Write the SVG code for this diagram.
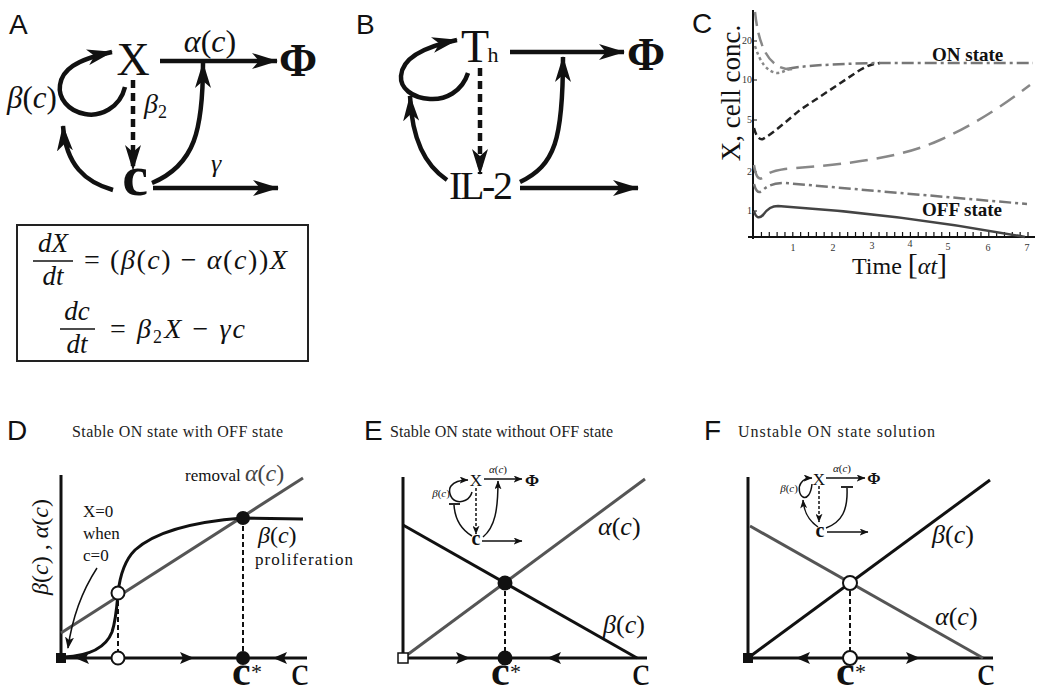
<svg xmlns="http://www.w3.org/2000/svg" width="1042" height="692" viewBox="0 0 1042 692">
<defs>
<style>
.lbl{font-family:"Liberation Sans",Arial,sans-serif;font-size:28px;fill:#111}
.sf{font-family:"Liberation Serif","Times New Roman",serif;fill:#111}
.it{font-style:italic}
.ln{fill:none;stroke:#111;stroke-width:4.5}
.thin{fill:none;stroke:#111;stroke-width:1.5}
.ax{fill:none;stroke:#111;stroke-width:3}
.blk{fill:none;stroke:#111;stroke-width:3}
.gry{fill:none;stroke:#555;stroke-width:3}
.dsh{fill:none;stroke:#111;stroke-width:2;stroke-dasharray:5,3}
.ttl{font-family:"Liberation Serif","Times New Roman",serif;font-size:16px;fill:#222}
.tk{font-family:"Liberation Serif","Times New Roman",serif;font-size:10px;fill:#333}
</style>
<marker id="ah" viewBox="0 0 26 16" markerWidth="26" markerHeight="16" refX="25" refY="8" orient="auto" markerUnits="userSpaceOnUse"><path d="M0,0 L26,8 L0,16 L7,8 Z" fill="#111"/></marker>
<marker id="am" viewBox="0 0 12 9" markerWidth="12" markerHeight="9" refX="11" refY="4.5" orient="auto" markerUnits="userSpaceOnUse"><path d="M0,0 L12,4.5 L0,9 L3,4.5 Z" fill="#111"/></marker>
<marker id="as" viewBox="0 0 10 8" markerWidth="9" markerHeight="7" refX="9.5" refY="4" orient="auto" markerUnits="userSpaceOnUse"><path d="M0,0 L10,4 L0,8 L2.5,4 Z" fill="#111"/></marker>
</defs>
<rect width="1042" height="692" fill="#fff"/>

<!-- Panel A -->
<g id="panelA">
<text class="lbl" x="9" y="34">A</text>
<g id="A-X"><text class="sf" x="133" y="75" font-size="46" text-anchor="middle">X</text></g>
<g id="A-Phi"><text class="sf" x="298" y="76" font-size="46" font-weight="bold" text-anchor="middle">Φ</text></g>
<g id="A-c"><text class="sf" x="135" y="195" font-size="58" font-weight="bold" text-anchor="middle">c</text></g>
<text class="sf it" x="210" y="52" font-size="32" text-anchor="middle">α<tspan font-style="normal">(</tspan>c<tspan font-style="normal">)</tspan></text>
<text class="sf it" x="32" y="108" font-size="31" text-anchor="middle">β<tspan font-style="normal">(</tspan>c<tspan font-style="normal">)</tspan></text>
<text class="sf it" x="144" y="113" font-size="28">β<tspan font-style="normal" font-size="18" dy="5">2</tspan></text>
<text class="sf it" x="216" y="172" font-size="26" text-anchor="middle">γ</text>
<g id="A-conn">
<path class="ln" d="M160,61 L277,61" marker-end="url(#ah)"/>
<path class="ln" d="M125,87 C120,108 100,117 85,114 C68,111 58,98 60,85 C62,70 75,60 112,52" marker-end="url(#ah)"/>
<path class="ln" d="M133,80 L133,170" stroke-width="3.5" stroke-dasharray="8,5" marker-end="url(#ah)"/>
<path class="ln" d="M113,190 C85,182 66,165 63,126" marker-end="url(#ah)"/>
<path class="ln" d="M152,183 C195,165 203,130 203,63" marker-end="url(#ah)"/>
<path class="ln" d="M153,188 L278,188" marker-end="url(#ah)"/>
</g>
<g id="A-eq">
<rect x="17" y="225" width="291" height="136" fill="none" stroke="#222" stroke-width="2"/>
<text class="sf it" x="53" y="252" font-size="27" text-anchor="middle">dX</text>
<line x1="33" y1="261" x2="73" y2="261" stroke="#111" stroke-width="1.3"/>
<text class="sf it" x="53" y="285" font-size="27" text-anchor="middle">dt</text>
<text class="sf it" x="84" y="269" font-size="28" textLength="203"><tspan font-style="normal">= (</tspan>β<tspan font-style="normal">(</tspan>c<tspan font-style="normal">) − </tspan>α<tspan font-style="normal">(</tspan>c<tspan font-style="normal">))</tspan>X</text>
<text class="sf it" x="77" y="320" font-size="27" text-anchor="middle">dc</text>
<line x1="60" y1="329" x2="95" y2="329" stroke="#111" stroke-width="1.3"/>
<text class="sf it" x="77" y="353" font-size="27" text-anchor="middle">dt</text>
<text class="sf it" x="110" y="338" font-size="28" textLength="135"><tspan font-style="normal">= </tspan>β<tspan font-style="normal" font-size="18" dy="5">2</tspan><tspan dy="-5">X </tspan><tspan font-style="normal">− </tspan>γc</text>
</g>
</g>

<!-- Panel B -->
<g id="panelB">
<text class="lbl" x="356" y="34">B</text>
<g id="B-Th"><text class="sf" x="475" y="62" font-size="46" text-anchor="middle">T</text><text class="sf" x="493" y="62" font-size="22" text-anchor="middle">h</text></g>
<g id="B-Phi"><text class="sf" x="646" y="70" font-size="46" font-weight="bold" text-anchor="middle">Φ</text></g>
<g id="B-IL2"><text class="sf" x="481" y="199" font-size="40" text-anchor="middle" textLength="64">IL-2</text></g>
<g id="B-conn">
<path class="ln" d="M510,52 L624,52" marker-end="url(#ah)"/>
<path class="ln" d="M468,73 C462,92 445,100 430,99 C412,98 400,88 401,76 C402,60 418,48 457,40" marker-end="url(#ah)"/>
<path class="ln" d="M480,68 L480,174" stroke-width="3.5" stroke-dasharray="8,5" marker-end="url(#ah)"/>
<path class="ln" d="M447,180 C425,165 412,140 410,96" marker-end="url(#ah)"/>
<path class="ln" d="M520,182 C555,165 563,140 563,57" marker-end="url(#ah)"/>
<path class="ln" d="M520,188 L638,188" marker-end="url(#ah)"/>
</g>
</g>

<!-- Panel C -->
<g id="panelC">
<text class="lbl" x="692" y="33">C</text>
<line x1="753" y1="10" x2="753" y2="239" stroke="#111" stroke-width="2"/>
<line x1="748" y1="237" x2="1035" y2="237" stroke="#111" stroke-width="2"/>
<line x1="760.84" y1="234" x2="1030" y2="234" stroke="#111" stroke-width="4" stroke-dasharray="1.2,6.64"/>
<g stroke="#111" stroke-width="1">
<line x1="753" y1="41" x2="757" y2="41"/><line x1="753" y1="80" x2="757" y2="80"/><line x1="753" y1="120" x2="757" y2="120"/><line x1="753" y1="172" x2="757" y2="172"/><line x1="753" y1="211" x2="757" y2="211"/>
</g>
<g class="tk" text-anchor="middle">
<text x="793" y="251">1</text><text x="833" y="251">2</text><text x="872" y="249">3</text><text x="910" y="247">4</text><text x="948" y="250">5</text><text x="988" y="251">6</text><text x="1027" y="251">7</text>
</g>
<g class="tk" text-anchor="end">
<text x="752" y="44">20</text><text x="752" y="83">10</text><text x="752" y="123">5</text><text x="752" y="175">2</text><text x="752" y="214">1</text>
</g>
<text class="sf" x="0" y="0" font-size="27" text-anchor="middle" transform="translate(740,93) rotate(-90)">X, cell conc.</text>
<text class="sf" x="852" y="274" font-size="24">Time <tspan font-size="30" font-weight="lighter">[</tspan><tspan font-style="italic">αt</tspan><tspan font-size="30">]</tspan></text>
<text class="sf" x="932" y="61" font-size="19" font-weight="bold">ON state</text>
<text class="sf" x="922" y="216" font-size="19" font-weight="bold">OFF state</text>
<g id="C-curves" fill="none">
<path d="M754,211 C756,218 759,219 763,215 C768,208 772,206 778,206 Q900,214 1025,237" stroke="#444" stroke-width="2.5"/>
<path d="M754,184 C756,192 759,194 763,190 C768,185 775,183 785,183 L1027,204" stroke="#777" stroke-width="2.5" stroke-dasharray="12,4,3,4"/>
<path d="M754,165 C756,178 759,181 764,177 C768,173 772,171 785,169 C850,164 900,158 940,140 C980,122 1010,100 1030,85" stroke="#888" stroke-width="2.5" stroke-dasharray="18,9"/>
<path d="M754,128 C756,136 759,140 763,139 C775,132 790,118 800,110 L860,70 C867,66 872,64 880,63" stroke="#222" stroke-width="2.5" stroke-dasharray="7,4"/>
<path d="M787,69 C800,66 830,64 880,63 L1033,63" stroke="#777" stroke-width="2.5" stroke-dasharray="12,4,3,4"/>
<path d="M755,12 C758,40 765,60 780,67 C785,69 788,70 792,69" stroke="#888" stroke-width="2.5" stroke-dasharray="14,7"/>
<path d="M755,46 C760,62 767,72 777,73 C782,73 786,70 792,68" stroke="#888" stroke-width="2.5" stroke-dasharray="3,3"/>
</g>
</g>

<!-- Panel D -->
<g id="panelD">
<text class="lbl" x="7" y="440">D</text>
<text class="ttl" x="72" y="437" textLength="211">Stable ON state with OFF state</text>
<text class="sf it" font-size="24" fill="#666" text-anchor="middle" transform="translate(48,547) rotate(-90)">β<tspan font-style="normal">(</tspan>c<tspan font-style="normal">) , </tspan>α<tspan font-style="normal">(</tspan>c<tspan font-style="normal">)</tspan></text>
<line class="ax" x1="61" y1="475" x2="61" y2="658"/>
<line class="ax" x1="61" y1="658" x2="307" y2="658"/>
<path class="gry" d="M61,633 L303,478"/>
<path class="blk" d="M64,657 C85,656 105,650 112,632 C116,620 117,605 118,593 C120,575 125,560 135,550 C155,532 190,522 243,518 L303,519"/>
<path class="thin" d="M97,568 C84,588 73,612 68,648" marker-end="url(#am)"/>
<line class="dsh" x1="118" y1="593" x2="118" y2="658"/>
<line class="dsh" x1="243" y1="518" x2="243" y2="658"/>
<rect x="56" y="653" width="10" height="10" fill="#111"/>
<circle cx="118" cy="593" r="6.5" fill="#fff" stroke="#111" stroke-width="2"/>
<circle cx="243" cy="518" r="7" fill="#111"/>
<circle cx="118" cy="658" r="6.5" fill="#fff" stroke="#111" stroke-width="2"/>
<circle cx="243" cy="658" r="7" fill="#111"/>
<path d="M75,658 L89,652 L86,658 L89,664 Z" fill="#111"/>
<path d="M194,658 L180,652 L183,658 L180,664 Z" fill="#111"/>
<path d="M273,658 L287,652 L284,658 L287,664 Z" fill="#111"/>
<text class="sf" x="83" y="517" font-size="17">X=0</text>
<text class="sf" x="83" y="539" font-size="17">when</text>
<text class="sf" x="83" y="561" font-size="17">c=0</text>
<text class="sf" x="185" y="481" font-size="17">removal <tspan font-style="italic" font-size="24" fill="#444">α</tspan><tspan font-size="24" fill="#444">(</tspan><tspan font-style="italic" font-size="24" fill="#444">c</tspan><tspan font-size="24" fill="#444">)</tspan></text>
<text class="sf it" x="258" y="543" font-size="24" fill="#333">β<tspan font-style="normal">(</tspan>c<tspan font-style="normal">)</tspan></text>
<text class="sf" x="255" y="565" font-size="17" textLength="98">proliferation</text>
<text class="sf" x="232" y="685" font-size="42" font-weight="bold">c</text>
<text class="sf" x="251" y="679" font-size="22">*</text>
<text class="sf" x="291" y="685" font-size="40">c</text>
</g>

<!-- Panel E -->
<g id="panelE">
<text class="lbl" x="364" y="440">E</text>
<text class="ttl" x="390" y="437" textLength="223">Stable ON state without OFF state</text>
<line class="ax" x1="403" y1="477" x2="403" y2="658"/>
<line class="ax" x1="403" y1="658" x2="647" y2="658"/>
<path class="blk" d="M403,525 L637,658"/>
<path class="gry" d="M403,658 L645,479"/>
<line class="dsh" x1="505" y1="583" x2="505" y2="658"/>
<circle cx="505" cy="583" r="7.5" fill="#111"/>
<circle cx="505" cy="658" r="7.5" fill="#111"/>
<rect x="398" y="653" width="10" height="10" fill="#fff" stroke="#111" stroke-width="1.5"/>
<path d="M470,658 L456,652 L459,658 L456,664 Z" fill="#111"/>
<path d="M547,658 L561,652 L558,658 L561,664 Z" fill="#111"/>
<text class="sf it" x="598" y="535" font-size="26" fill="#333">α<tspan font-style="normal">(</tspan>c<tspan font-style="normal">)</tspan></text>
<text class="sf it" x="603" y="633" font-size="26" fill="#333">β<tspan font-style="normal">(</tspan>c<tspan font-style="normal">)</tspan></text>
<text class="sf" x="491" y="685" font-size="42" font-weight="bold">c</text>
<text class="sf" x="510" y="679" font-size="22">*</text>
<text class="sf" x="632" y="685" font-size="40">c</text>
<g id="E-inset">
<text class="sf" x="476" y="486" font-size="17" text-anchor="middle">X</text>
<text class="sf it" x="498" y="473" font-size="11" fill="#666" text-anchor="middle">α<tspan font-style="normal">(</tspan>c<tspan font-style="normal">)</tspan></text>
<text class="sf" x="532" y="486" font-size="17" font-weight="bold" text-anchor="middle">Φ</text>
<text class="sf it" x="441" y="497" font-size="11" fill="#888" text-anchor="middle">β<tspan font-style="normal">(</tspan>c<tspan font-style="normal">)</tspan></text>
<text class="sf" x="476" y="545" font-size="20" font-weight="bold" text-anchor="middle">c</text>
<path class="thin" d="M484,479 L522,479" marker-end="url(#as)"/>
<path class="thin" d="M472,492 C470,500 462,503 456,501 C450,499 448,490 451,486 C454,482 460,480 468,480" stroke-width="2" marker-end="url(#as)"/>
<path class="thin" d="M472,536 C462,530 455,520 454,505"/>
<line x1="449" y1="504" x2="460" y2="504" stroke="#111" stroke-width="1.8"/>
<path class="thin" d="M476,488 L476,534" stroke-dasharray="3,2" marker-end="url(#as)"/>
<path class="thin" d="M483,537 C495,527 498,510 498,481" marker-end="url(#as)"/>
<path class="thin" d="M482,541 L522,541" marker-end="url(#as)"/>
</g>
</g>

<!-- Panel F -->
<g id="panelF">
<text class="lbl" x="704" y="440">F</text>
<text class="ttl" x="738" y="437" textLength="197">Unstable ON state solution</text>
<line class="ax" x1="748" y1="477" x2="748" y2="658"/>
<line class="ax" x1="748" y1="658" x2="993" y2="658"/>
<path class="blk" d="M748,658 L990,480"/>
<path class="gry" d="M750,526 L983,658"/>
<line class="dsh" x1="850" y1="583" x2="850" y2="658"/>
<circle cx="850" cy="583" r="7" fill="#fff" stroke="#111" stroke-width="2"/>
<circle cx="850" cy="658" r="7" fill="#fff" stroke="#111" stroke-width="2"/>
<rect x="743" y="653" width="10" height="10" fill="#111"/>
<path d="M796,658 L810,652 L807,658 L810,664 Z" fill="#111"/>
<path d="M920,658 L906,652 L909,658 L906,664 Z" fill="#111"/>
<text class="sf it" x="932" y="543" font-size="26" fill="#333">β<tspan font-style="normal">(</tspan>c<tspan font-style="normal">)</tspan></text>
<text class="sf it" x="935" y="625" font-size="26" fill="#333">α<tspan font-style="normal">(</tspan>c<tspan font-style="normal">)</tspan></text>
<text class="sf" x="836" y="685" font-size="42" font-weight="bold">c</text>
<text class="sf" x="855" y="679" font-size="22">*</text>
<text class="sf" x="977" y="685" font-size="40">c</text>
<g id="F-inset">
<text class="sf" x="819" y="485" font-size="17" text-anchor="middle">X</text>
<text class="sf it" x="842" y="472" font-size="11" fill="#666" text-anchor="middle">α<tspan font-style="normal">(</tspan>c<tspan font-style="normal">)</tspan></text>
<text class="sf" x="874" y="484" font-size="16" font-weight="bold" text-anchor="middle">Φ</text>
<text class="sf it" x="789" y="492" font-size="11" fill="#888" text-anchor="middle">β<tspan font-style="normal">(</tspan>c<tspan font-style="normal">)</tspan></text>
<text class="sf" x="820" y="537" font-size="20" font-weight="bold" text-anchor="middle">c</text>
<path class="thin" d="M826,478 L865,478" marker-end="url(#as)"/>
<path class="thin" d="M826,528 C842,522 848,510 847,488"/>
<line x1="841" y1="487" x2="853" y2="487" stroke="#111" stroke-width="1.8"/>
<path class="thin" d="M812,484 C811,494 807,499 803,497 C799,495 798,487 801,483 C803,480 806,478 812,478" stroke-width="2" marker-end="url(#as)"/>
<path class="thin" d="M818,527 C808,520 804,512 803,500" marker-end="url(#as)"/>
<path class="thin" d="M819,486 L819,522" stroke-dasharray="3,2" marker-end="url(#as)"/>
<path class="thin" d="M827,532 L868,532" marker-end="url(#as)"/>
</g>
</g>
</svg>
